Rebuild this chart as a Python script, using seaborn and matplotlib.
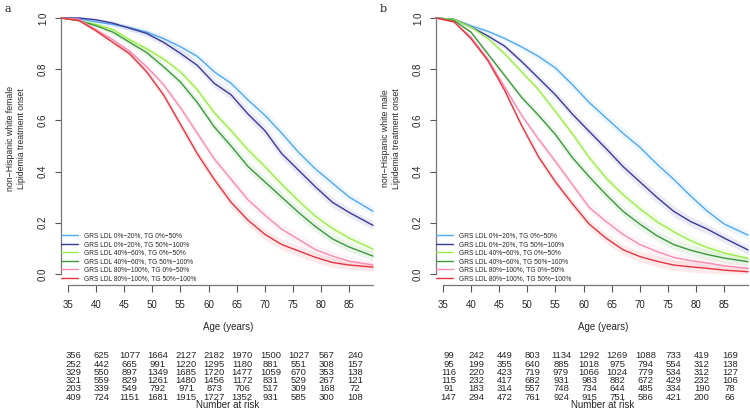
import numpy as np
import pandas as pd
import seaborn as sns
import matplotlib.pyplot as plt
import matplotlib.transforms as mtransforms

ages = [33.8, 37, 40, 43, 46, 49, 52, 55, 58, 61, 64, 67, 70, 73, 76, 79, 82, 85, 89.2]

groups = ["GRS LDL 0%−20%, TG 0%−50%",
          "GRS LDL 0%−20%, TG 50%−100%",
          "GRS LDL 40%−60%, TG 0%−50%",
          "GRS LDL 40%−60%, TG 50%−100%",
          "GRS LDL 80%−100%, TG 0%−50%",
          "GRS LDL 80%−100%, TG 50%−100%"]
colors = ["#4FA8F0", "#3A3A99", "#99EE44", "#3A9A3A", "#F98AB0", "#E8333F"]

# panel a: non-Hispanic white female
f_ldl0_tg0 = [1.0, 0.997, 0.985, 0.975, 0.962, 0.945, 0.92, 0.888, 0.85, 0.79, 0.745, 0.68, 0.62, 0.55, 0.475, 0.41, 0.355, 0.30, 0.245]
f_ldl0_tg50 = [1.0, 1.0, 0.993, 0.98, 0.96, 0.94, 0.905, 0.862, 0.815, 0.745, 0.70, 0.625, 0.56, 0.47, 0.405, 0.34, 0.28, 0.24, 0.19]
f_ldl40_tg0 = [1.0, 0.99, 0.975, 0.955, 0.915, 0.88, 0.84, 0.79, 0.72, 0.63, 0.56, 0.485, 0.42, 0.35, 0.285, 0.225, 0.178, 0.14, 0.097]
f_ldl40_tg50 = [1.0, 0.99, 0.97, 0.945, 0.905, 0.865, 0.81, 0.75, 0.67, 0.575, 0.50, 0.42, 0.36, 0.30, 0.24, 0.185, 0.137, 0.105, 0.07]
f_ldl80_tg0 = [1.0, 0.995, 0.955, 0.915, 0.87, 0.81, 0.74, 0.65, 0.55, 0.45, 0.37, 0.29, 0.23, 0.175, 0.135, 0.095, 0.07, 0.05, 0.035]
f_ldl80_tg50 = [1.0, 0.99, 0.95, 0.905, 0.86, 0.79, 0.70, 0.585, 0.47, 0.37, 0.28, 0.21, 0.155, 0.115, 0.09, 0.065, 0.045, 0.035, 0.027]

# panel b: non-Hispanic white male
m_ldl0_tg0 = [1.0, 0.995, 0.97, 0.948, 0.92, 0.887, 0.85, 0.805, 0.74, 0.67, 0.61, 0.55, 0.495, 0.43, 0.37, 0.305, 0.245, 0.195, 0.152]
m_ldl0_tg50 = [1.0, 0.995, 0.965, 0.93, 0.89, 0.83, 0.765, 0.70, 0.625, 0.557, 0.49, 0.42, 0.36, 0.30, 0.245, 0.205, 0.175, 0.14, 0.094]
m_ldl40_tg0 = [1.0, 0.995, 0.965, 0.92, 0.86, 0.79, 0.72, 0.635, 0.548, 0.455, 0.375, 0.31, 0.255, 0.205, 0.165, 0.13, 0.103, 0.082, 0.061]
m_ldl40_tg50 = [1.0, 0.99, 0.945, 0.86, 0.775, 0.69, 0.62, 0.545, 0.455, 0.38, 0.31, 0.245, 0.195, 0.15, 0.115, 0.093, 0.076, 0.062, 0.048]
m_ldl80_tg0 = [1.0, 0.985, 0.925, 0.84, 0.73, 0.62, 0.527, 0.44, 0.35, 0.26, 0.205, 0.155, 0.115, 0.088, 0.065, 0.052, 0.043, 0.032, 0.022]
m_ldl80_tg50 = [1.0, 0.985, 0.92, 0.834, 0.717, 0.58, 0.458, 0.36, 0.275, 0.195, 0.14, 0.095, 0.068, 0.05, 0.035, 0.028, 0.022, 0.015, 0.009]

# approximate confidence band half-width
ci_half = [0, 0.004, 0.007, 0.009, 0.011, 0.013, 0.015, 0.016, 0.017, 0.018, 0.019, 0.02, 0.021, 0.021, 0.021, 0.02, 0.019, 0.018, 0.017]

risk_ages = [35, 40, 45, 50, 55, 60, 65, 70, 75, 80, 85]
risk_female = [[356, 625, 1077, 1664, 2127, 2182, 1970, 1500, 1027, 567, 240],
               [252, 442, 665, 991, 1220, 1295, 1180, 881, 551, 308, 157],
               [329, 550, 897, 1349, 1685, 1720, 1477, 1059, 670, 353, 138],
               [321, 559, 829, 1261, 1480, 1456, 1172, 831, 529, 267, 121],
               [203, 339, 549, 792, 971, 873, 706, 517, 309, 168, 72],
               [409, 724, 1151, 1681, 1915, 1727, 1352, 931, 585, 300, 108]]
risk_male = [[99, 242, 449, 803, 1134, 1292, 1269, 1088, 733, 419, 169],
             [95, 199, 355, 640, 885, 1018, 975, 794, 554, 312, 138],
             [116, 220, 423, 719, 979, 1066, 1024, 779, 534, 312, 127],
             [115, 232, 417, 682, 931, 983, 882, 672, 429, 232, 106],
             [91, 183, 314, 557, 748, 734, 644, 485, 334, 190, 78],
             [147, 294, 472, 761, 924, 915, 751, 586, 421, 200, 66]]

female = [f_ldl0_tg0, f_ldl0_tg50, f_ldl40_tg0, f_ldl40_tg50, f_ldl80_tg0, f_ldl80_tg50]
male = [m_ldl0_tg0, m_ldl0_tg50, m_ldl40_tg0, m_ldl40_tg50, m_ldl80_tg0, m_ldl80_tg50]

sns.set_style("white")
plt.rcParams['font.family'] = ['Liberation Sans', 'DejaVu Sans']

W, H = 750, 412
fig = plt.figure(figsize=(W / 100, H / 100), dpi=100)


def make_df(curves):
    rows = []
    for g, c in zip(groups, curves):
        for a, s in zip(ages, c):
            rows.append({"age": a, "surv": s, "group": g})
    return pd.DataFrame(rows)


def draw_panel(ax, curves, risk, ylabel, letter):
    df = make_df(curves)
    for c, col in zip(curves, colors):
        lo = np.clip(np.array(c) - np.array(ci_half), 0, 1)
        hi = np.clip(np.array(c) + np.array(ci_half), 0, 1)
        ax.fill_between(ages, lo, hi, color=col, alpha=0.1, lw=0)
    sns.lineplot(data=df, x="age", y="surv", hue="group", palette=colors,
                 hue_order=groups, ax=ax, lw=1.0, clip_on=False)
    ax.set_xlim(33.8, 89.2)
    ax.set_ylim(0, 1)
    for s in ["top", "right"]:
        ax.spines[s].set_visible(False)
    ax.spines["left"].set_bounds(0, 1)
    ax.spines["bottom"].set_position(("outward", 8))
    ax.spines["bottom"].set_bounds(35, 89.2)
    for s in ["left", "bottom"]:
        ax.spines[s].set_color("#777777")
        ax.spines[s].set_linewidth(0.9)
    ax.set_xticks(risk_ages)
    ax.set_yticks([0, 0.2, 0.4, 0.6, 0.8, 1.0])
    ax.set_yticklabels(["0.0", "0.2", "0.4", "0.6", "0.8", "1.0"])
    ax.tick_params(axis="x", bottom=True, length=5, width=0.8, color="#555555", pad=6, labelsize=7)
    ax.tick_params(axis="y", left=True, length=4.3, width=0.8, color="#555555", pad=5, labelsize=7)
    plt.setp(ax.get_yticklabels(), rotation=90, va="center")
    ax.set_xlabel("")
    ax.set_ylabel("")

    handles, labels = ax.get_legend_handles_labels()
    ax.legend(handles, labels, loc="upper left", bbox_to_anchor=(0.0, 0.162),
              frameon=False, fontsize=4.8, handlelength=2.6, handletextpad=0.9,
              labelspacing=0.22, borderpad=0, borderaxespad=0)

    # axis titles and risk table
    pos = ax.get_position()
    tr = mtransforms.blended_transform_factory(ax.transData, fig.transFigure)
    tra = mtransforms.blended_transform_factory(ax.transAxes, fig.transFigure)
    ax.text(0.535, 1 - 327 / H, "Age (years)", transform=tra, ha="center", va="center", fontsize=7)
    row_y = [356, 364.2, 372.4, 380.6, 388.8, 397]
    for r, yp in zip(risk, row_y):
        for a, n in zip(risk_ages, r):
            ax.text(a + 1.0, 1 - yp / H, str(n), transform=tr, ha="center", va="center",
                    fontsize=6.8)
    ax.text(0.535, 1 - 405.5 / H, "Number at risk", transform=tra, ha="center", va="center", fontsize=7)
    fig.text(pos.x0 - 45 / W, pos.y0 + pos.height * 0.53, ylabel, rotation=90,
             ha="center", va="center", fontsize=6.3, linespacing=1.15)
    fig.text(pos.x0 - 56 / W, 1 - 9 / H, letter, ha="left", va="center",
             fontsize=8, family="DejaVu Serif")


ax_a = fig.add_axes([61 / W, 138 / H, 312 / W, 256 / H])
ax_b = fig.add_axes([436 / W, 138 / H, 312 / W, 256 / H])

draw_panel(ax_a, female, risk_female, "non−Hispanic white female\nLipidemia treatment onset", "a")
draw_panel(ax_b, male, risk_male, "non−Hispanic white male\nLipidemia treatment onset", "b")

fig.savefig("out.png", dpi=100)
